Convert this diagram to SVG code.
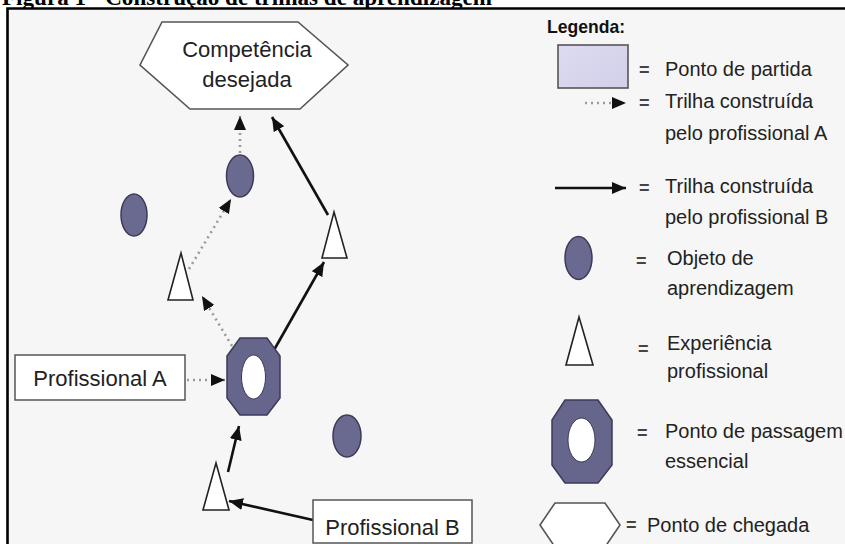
<svg xmlns="http://www.w3.org/2000/svg" width="845" height="544" viewBox="0 0 845 544">
  <style>
    .lbl { font-family: "Liberation Sans", Arial, sans-serif; fill: #222; }
    .big { font-size: 22px; }
    .leg { font-size: 20px; }
    .eq { font-family: "Liberation Sans", Arial, sans-serif; font-size: 18px; font-weight: bold; fill: #444; }
    .obj { fill: #6a6990; stroke: #3b3a58; stroke-width: 1.5; }
    .exp { fill: #ffffff; stroke: #222; stroke-width: 1.6; stroke-linejoin: miter; }
    .pass { fill: #66658c; stroke: #3b3a58; stroke-width: 1.5; }
    .hole { fill: #ffffff; stroke: #3b3a58; stroke-width: 1; }
    .goal { fill: #ffffff; stroke: #555; stroke-width: 1.6; }
    .box { fill: #ffffff; stroke: #555; stroke-width: 1.5; }
    .dot { fill: none; stroke: #9a9a9a; stroke-width: 2.6; stroke-dasharray: 2 4; marker-end: url(#ah); }
    .sol { fill: none; stroke: #111; stroke-width: 2.6; marker-end: url(#ah); }
  </style>
  <defs>
    <marker id="ah" viewBox="0 0 14 12" refX="14" refY="6" markerWidth="14" markerHeight="12" markerUnits="userSpaceOnUse" orient="auto">
      <path d="M0,0 L14,6 L0,12 z" fill="#111"/>
    </marker>
    <linearGradient id="start" x1="0" y1="0" x2="1" y2="1">
      <stop offset="0" stop-color="#dddbf0"/>
      <stop offset="1" stop-color="#d2d0ea"/>
    </linearGradient>
  </defs>

  <!-- page and caption (caption runs off the top edge of the page) -->
  <rect x="0" y="0" width="845" height="544" fill="#ffffff"/>
  <text x="2" y="5" font-family="'Liberation Serif', 'Times New Roman', serif" font-weight="bold" font-size="23" fill="#000" textLength="490" lengthAdjust="spacingAndGlyphs">Figura 1 - Construção de trilhas de aprendizagem</text>
  <rect x="7.5" y="8.5" width="840" height="540" fill="#f6f6f6"/>
  <path d="M7.5,546 V8.5 H845" fill="none" stroke="#000" stroke-width="2.6"/>

  <!-- connectors -->
  <g id="connectors">
    <line class="dot" x1="187" y1="380" x2="225" y2="380"/>
    <line class="dot" x1="232" y1="346" x2="202" y2="296"/>
    <line class="dot" x1="189" y1="269" x2="231" y2="199"/>
    <line class="dot" x1="240" y1="153" x2="240" y2="116"/>
    <line class="sol" x1="313" y1="520" x2="229" y2="501"/>
    <line class="sol" x1="228" y1="472" x2="239" y2="426"/>
    <line class="sol" x1="274" y1="350" x2="324" y2="262"/>
    <line class="sol" x1="328" y1="215" x2="272" y2="117"/>
  </g>

  <!-- diagram nodes -->
  <g id="competencia">
    <polygon class="goal" points="162,22 298,22 348,65 300,109 190,109 140,65"/>
    <text class="lbl big" x="247" y="57" text-anchor="middle">Competência</text>
    <text class="lbl big" x="247" y="87" text-anchor="middle">desejada</text>
  </g>
  <g id="objeto-topo"><ellipse class="obj" cx="240" cy="176" rx="13.5" ry="21"/></g>
  <g id="objeto-esq"><ellipse class="obj" cx="134" cy="215" rx="13" ry="21"/></g>
  <g id="objeto-baixo"><ellipse class="obj" cx="347" cy="436" rx="14" ry="21"/></g>
  <g id="experiencia-esq"><polygon class="exp" points="181,253 193,300 168,300"/></g>
  <g id="experiencia-dir"><polygon class="exp" points="334,212 347,258 322,258"/></g>
  <g id="experiencia-baixo"><polygon class="exp" points="216,463 229,510 203,510"/></g>
  <g id="passagem">
    <polygon class="pass" points="240,338 267,338 280,356 280,398 267,415 240,415 227,398 227,356"/>
    <ellipse class="hole" cx="253.5" cy="377" rx="12" ry="22"/>
  </g>
  <g id="profissional-a">
    <rect class="box" x="15" y="355" width="170" height="45"/>
    <text class="lbl big" x="100" y="386" text-anchor="middle">Profissional A</text>
  </g>
  <g id="profissional-b">
    <rect class="box" x="313" y="500" width="159" height="43"/>
    <text class="lbl big" x="392.5" y="535" text-anchor="middle">Profissional B</text>
  </g>

  <!-- legend -->
  <g id="legenda">
    <text x="547" y="33" font-family="'Liberation Sans', Arial, sans-serif" font-weight="bold" font-size="19" fill="#111" textLength="78" lengthAdjust="spacingAndGlyphs">Legenda:</text>

    <rect x="558" y="45" width="70" height="43" fill="url(#start)" stroke="#555" stroke-width="1.6"/>
    <text class="eq" x="639" y="76">=</text>
    <text class="lbl leg" x="665" y="76">Ponto de partida</text>

    <line class="dot" x1="585" y1="103" x2="626" y2="103"/>
    <text class="eq" x="639" y="109">=</text>
    <text class="lbl leg" x="665" y="108">Trilha construída</text>
    <text class="lbl leg" x="665" y="140">pelo profissional A</text>

    <line class="sol" x1="555" y1="188" x2="626" y2="188"/>
    <text class="eq" x="639" y="194">=</text>
    <text class="lbl leg" x="665" y="193">Trilha construída</text>
    <text class="lbl leg" x="665" y="224">pelo profissional B</text>

    <ellipse class="obj" cx="578.5" cy="258" rx="13.5" ry="21.5"/>
    <text class="eq" x="636" y="267">=</text>
    <text class="lbl leg" x="667" y="265">Objeto de</text>
    <text class="lbl leg" x="667" y="295">aprendizagem</text>

    <polygon class="exp" points="579,317 593,365 566,365"/>
    <text class="eq" x="638" y="355">=</text>
    <text class="lbl leg" x="667" y="350">Experiência</text>
    <text class="lbl leg" x="667" y="378">profissional</text>

    <polygon class="pass" points="565,400 598,400 612,420 612,465 598,483 565,483 552,465 552,420"/>
    <ellipse class="hole" cx="581.5" cy="440" rx="13.5" ry="22"/>
    <text class="eq" x="637" y="439">=</text>
    <text class="lbl leg" x="665" y="438">Ponto de passagem</text>
    <text class="lbl leg" x="665" y="468">essencial</text>

    <polygon class="goal" points="555,503 605,503 620,525 605,547 555,547 540,525" stroke="#8a9096"/>
    <text class="eq" x="626" y="531">=</text>
    <text class="lbl leg" x="647" y="532">Ponto de chegada</text>
  </g>
</svg>
